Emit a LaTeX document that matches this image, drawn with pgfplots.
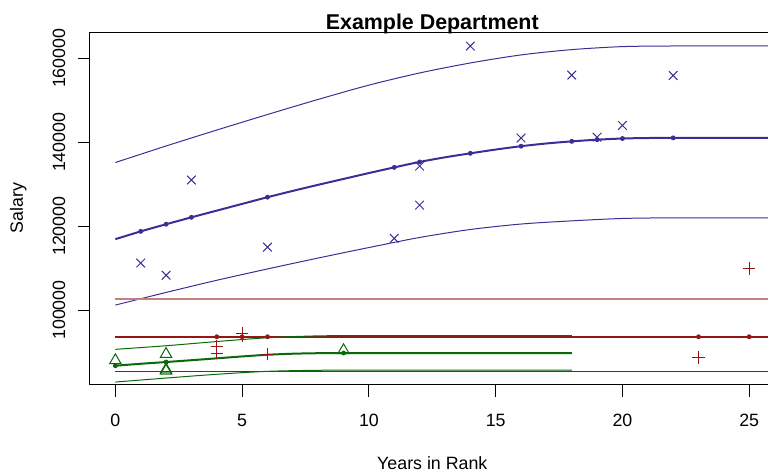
\documentclass[border=0pt]{standalone}
\usepackage{fontspec}
\setmainfont{Liberation Sans}
\usepackage{pgfplots}
\pgfplotsset{compat=1.18}
\usetikzlibrary{calc}
\definecolor{cblue}{RGB}{62,45,150}
\definecolor{cred}{RGB}{150,22,22}
\definecolor{cgreen}{RGB}{10,105,10}
\begin{document}
\fontsize{8.9}{10.7}\selectfont
\begin{tikzpicture}
\begin{axis}[
  scale only axis, width=342.3pt, height=176pt,
  xmin=-1, xmax=26, ymin=82310, ymax=166190,
  xtick={0,5,10,15,20,25}, ytick={100000,120000,140000,160000},
  xtick pos=bottom, ytick pos=left, tick align=outside,
  major tick length=6.2pt,
  scaled y ticks=false,
  /pgf/number format/fixed,
  /pgf/number format/precision=0,
  /pgf/number format/assume math mode=true,
  /pgf/number format/set thousands separator={},
  axis line style={line width=0.5pt},
  every tick/.style={line width=0.5pt, black},
  title={Example Department},
  title style={font=\fontsize{10.7}{12}\selectfont\bfseries, at={(axis description cs:0.5,0.9744)}, anchor=base},
  xlabel={Years in Rank},
  xlabel style={at={(axis description cs:0.5,-0.2430)}, anchor=base},
  ylabel={Salary},
  ylabel style={at={(axis description cs:-0.0979,0.5)}, anchor=base},
  xticklabel style={anchor=base, yshift=-14.85pt},
  yticklabel style={rotate=90, anchor=base, yshift=6.25pt},
  clip=true,
]
\coordinate (LL) at (rel axis cs:0,0);
% ---- blue group ----
\addplot[cblue, line width=0.5pt, smooth] coordinates {
 (0,135160) (2,139100) (4,142900) (6,146600) (8,150200) (10,153600) (12,156500)
 (14,158880) (16,160800) (18,162060) (20,162780) (22,162930) (24,162930) (26,162930)};
\addplot[cblue, line width=0.5pt, smooth] coordinates {
 (0,101190) (2,104200) (4,107100) (6,109800) (8,112400) (10,114900) (12,117300)
 (14,119200) (16,120500) (18,121260) (20,121830) (22,121980) (24,121980) (26,121980)};
\addplot[cblue, line width=1pt, smooth] coordinates {
 (0,116900) (1,118750) (2,120450) (3,122100) (4,123700) (5,125300) (6,126900)
 (7,128400) (8,129850) (9,131250) (10,132650) (11,134000) (12,135300) (13,136400)
 (14,137350) (15,138250) (16,139050) (17,139700) (18,140200) (19,140600) (20,140880)
 (21,141000) (22,141030) (24,141030) (26,141030)};
\addplot[cblue, only marks, mark=*, mark size=1pt] coordinates {
 (1,118750) (2,120450) (3,122100) (6,126900) (11,134000) (12,135300) (14,137350)
 (16,139050) (18,140200) (19,140600) (20,140880) (22,141030)};
\addplot[cblue, only marks, mark=x, mark size=3.05pt, mark options={line width=0.5pt}] coordinates {
 (1,111200) (2,108300) (3,131000) (6,115000) (11,117100) (12,125000) (12,134300)
 (14,162900) (16,141000) (18,156000) (19,141200) (20,144000) (22,155900)};
% ---- red group ----
\addplot[cred!55, line width=0.6pt] coordinates {(0,102620) (26,102620)};
\addplot[cred, line width=0.5pt] coordinates {(0,85310) (26,85310)};
\addplot[cred, line width=1pt] coordinates {(0,93640) (26,93640)};
\addplot[cred, only marks, mark=*, mark size=1pt] coordinates {
 (4,93640) (5,93640) (6,93640) (23,93640) (25,93640)};
\addplot[cred, only marks, mark=+, mark size=3.1pt, mark options={line width=0.5pt}] coordinates {
 (4,91300) (4,89700) (5,94500) (5,93800) (6,89500) (23,88700) (25,109900)};
% ---- green group ----
\addplot[cgreen, line width=0.5pt, smooth] coordinates {
 (0,90640) (2,91500) (4,92500) (6,93400) (8,93850) (10,93900) (14,93900) (18,93900)};
\addplot[cgreen, line width=0.5pt, smooth] coordinates {
 (0,82850) (2,83800) (4,84700) (6,85400) (8,85650) (10,85710) (14,85710) (18,85710)};
\addplot[cgreen, line width=1pt, smooth] coordinates {
 (0,86740) (1,87200) (2,87620) (3,88050) (4,88500) (5,88950) (6,89350) (7,89600)
 (8,89720) (9,89760) (12,89760) (15,89760) (18,89760)};
\addplot[cgreen, only marks, mark=*, mark size=1pt] coordinates {
 (0,86740) (2,87620) (9,89760)};
\addplot[cgreen, only marks, mark=triangle, mark size=3.3pt, mark options={line width=0.5pt}] coordinates {
 (0,88000) (2,89500) (2,85800) (2,85500) (9,90400)};
\end{axis}
\pgfresetboundingbox
\path[use as bounding box] ($(LL)+(-45pt,-44.35pt)$) rectangle ($(LL)+(339pt,192.15pt)$);
\end{tikzpicture}
\end{document}
